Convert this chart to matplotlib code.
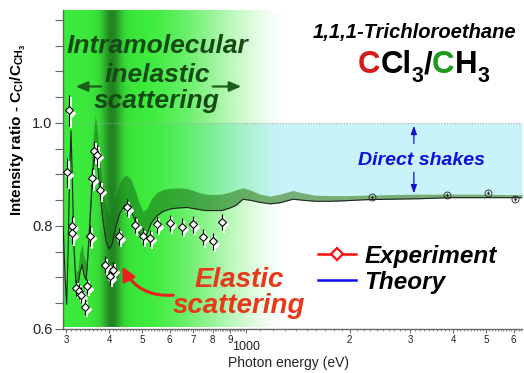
import numpy as np
import matplotlib
matplotlib.use('Agg')
import matplotlib.pyplot as plt
from matplotlib.lines import Line2D
from matplotlib import transforms
from matplotlib.ticker import FixedLocator, FixedFormatter, NullFormatter

plt.rcParams['font.family'] = ['Liberation Sans', 'DejaVu Sans']
plt.rcParams['mathtext.fontset'] = 'custom'
plt.rcParams['mathtext.rm'] = 'Liberation Sans:bold'
plt.rcParams['mathtext.it'] = 'Liberation Sans:bold'
plt.rcParams['mathtext.bf'] = 'Liberation Sans:bold'

# ---------------- data ----------------
theory_energy = [294, 298, 301, 304, 307, 310, 313, 316, 320, 325, 329, 334, 338, 343,
                 347, 352, 357, 362, 365, 369, 376, 384, 392, 400, 408, 419, 430, 442,
                 451, 463, 476, 489, 502, 516, 530, 551, 574, 601, 634, 674, 716, 760,
                 807, 851, 899, 935, 980, 1027, 1098, 1174, 1255, 1370, 1465, 1587,
                 1755, 1940, 2218, 2622, 3205, 3918, 4788, 5660, 6343]
theory_low = [0.80, 0.70, 0.648, 0.75, 0.90, 0.985, 0.88, 0.76, 0.69, 0.685, 0.71, 0.725,
              0.705, 0.695, 0.74, 0.81, 0.88, 0.93, 0.95, 0.93, 0.87, 0.81, 0.77, 0.755,
              0.765, 0.80, 0.825, 0.838, 0.84, 0.83, 0.81, 0.787, 0.778, 0.785, 0.805,
              0.82, 0.828, 0.833, 0.835, 0.836, 0.833, 0.83, 0.83, 0.83, 0.835, 0.84,
              0.852, 0.85, 0.846, 0.843, 0.845, 0.852, 0.85, 0.848, 0.848, 0.849, 0.851,
              0.852, 0.853, 0.855, 0.855, 0.855, 0.855]
theory_high = [0.81, 0.71, 0.66, 0.76, 0.91, 0.995, 0.89, 0.775, 0.71, 0.715, 0.75, 0.765,
               0.74, 0.73, 0.78, 0.86, 0.94, 0.995, 1.014, 0.99, 0.93, 0.87, 0.835, 0.82,
               0.83, 0.86, 0.885, 0.896, 0.898, 0.89, 0.87, 0.845, 0.828, 0.835, 0.852,
               0.865, 0.871, 0.873, 0.874, 0.873, 0.867, 0.862, 0.861, 0.862, 0.866, 0.87,
               0.874, 0.87, 0.862, 0.858, 0.862, 0.869, 0.864, 0.86, 0.859, 0.859, 0.86,
               0.861, 0.862, 0.862, 0.862, 0.861, 0.861]

exp_energy = [301, 305, 311, 313, 320, 327, 331, 340, 345, 351, 356, 361, 368, 377,
              390, 402, 411, 427, 452, 477, 501, 526, 552, 603, 650, 703, 752, 804, 853]
exp_ratio = [0.904, 1.025, 0.800, 0.786, 0.680, 0.673, 0.666, 0.643, 0.683, 0.781,
             0.893, 0.946, 0.938, 0.870, 0.725, 0.702, 0.715, 0.780, 0.836, 0.802,
             0.780, 0.777, 0.803, 0.806, 0.799, 0.803, 0.779, 0.770, 0.808]
exp_err = [0.028, 0.030, 0.020, 0.020, 0.015, 0.015, 0.015, 0.015, 0.015, 0.020,
           0.020, 0.020, 0.020, 0.018, 0.016, 0.016, 0.016, 0.016, 0.016, 0.016,
           0.016, 0.016, 0.016, 0.016, 0.016, 0.016, 0.016, 0.016, 0.016]

hi_energy = [2318, 3845, 5058, 6068]
hi_ratio = [0.856, 0.861, 0.865, 0.852]
hi_err = [0.003, 0.003, 0.003, 0.003]

xtick_values = [300, 400, 500, 600, 700, 800, 900, 1000, 2000, 3000, 4000, 5000, 6000]
xtick_labels = ['3', '4', '5', '6', '7', '8', '9', '1000', '2', '3', '4', '5', '6']
ytick_values = [0.6, 0.8, 1.0]
ytick_labels = ['0.6', '0.8', '1.0']

# ---------------- figure ----------------
W, H = 524, 373
fig = plt.figure(figsize=(W / 100, H / 100), dpi=100)
ax = fig.add_axes([63 / W, (H - 329) / H, (522 - 63) / W, (329 - 10) / H])

def P(x, y):
    return (x / W, 1 - y / H)

E = np.array(theory_energy)
lo = np.array(theory_low)
hi = np.array(theory_high)

# cyan "direct shakes" region
ax.fill_between(E, np.minimum(hi, 1.0), 1.0, color='#c8f3f9', lw=0, zorder=0.5)

# green gradient background (axes coordinates)
npx = 459
u = 63 + np.arange(npx) + 0.5
base = np.array([60, 236, 60]) / 255.0
dark = 1 - 0.36 * np.exp(-((u - 112) / 9.0) ** 2) - 0.08 * np.exp(-((u - 112) / 20) ** 2)
s = np.clip((u - 145) / 140.0, 0, 1)
alpha = 1 - (3 * s ** 2 - 2 * s ** 3) * 0.6 - s * 0.4
img = np.zeros((1, npx, 4))
img[0, :, 0] = base[0] * dark
img[0, :, 1] = base[1] * dark
img[0, :, 2] = base[2] * dark
img[0, :, 3] = np.clip(alpha, 0, 1)
ax.imshow(img, extent=(0, 1, 0.006, 1), transform=ax.transAxes, aspect='auto',
          interpolation='bilinear', zorder=0.8)

ax.axhline(1.0, color='#a8a8a8', ls=(0, (1, 1.5)), lw=0.8, zorder=1)

# theory band and line
ax.fill_between(E, lo, hi, color='#1a7a1a', alpha=0.6, lw=0, zorder=2)
ax.plot(E, lo, color='#222222', lw=0.8, zorder=3)

# experiment (white shadow + black)
shadow = ax.transData + transforms.ScaledTranslation(2 / 100, -2.5 / 100, fig.dpi_scale_trans)
ex = np.array(exp_energy)
ey = np.array(exp_ratio)
ee = np.array(exp_err)
ax.vlines(ex, ey - ee, ey + ee, color='white', lw=1.4, transform=shadow, zorder=4)
ax.plot(ex, ey, 'D', ms=4, mfc='white', mec='white', transform=shadow, zorder=4)
ax.errorbar(ex, ey, yerr=ee, fmt='D', ms=4, mfc='white', mec='black', mew=0.8,
            ecolor='black', elinewidth=0.8, capsize=0, zorder=5)

ax.errorbar(hi_energy, hi_ratio, yerr=hi_err, fmt='o', ms=5, mfc='none', mec='#222222',
            mew=0.6, ecolor='#222222', elinewidth=0.6, capsize=0, zorder=5)
ax.plot(hi_energy, hi_ratio, '.', ms=1.5, color='#222222', zorder=6)

# ---------------- axes ----------------
ax.set_xscale('log')
ax.set_xlim(293.8, 6343)
ax.set_ylim(0.6, 1.2194)
ax.spines['top'].set_visible(False)
ax.spines['right'].set_visible(False)
for sp in ('left', 'bottom'):
    ax.spines[sp].set_color('#666666')
    ax.spines[sp].set_linewidth(1.0)

ax.xaxis.set_major_locator(FixedLocator(xtick_values))
ax.xaxis.set_major_formatter(FixedFormatter(xtick_labels))
minor = [v for v in list(range(300, 1000, 10)) + list(range(1000, 6400, 100))
         if v not in xtick_values]
ax.xaxis.set_minor_locator(FixedLocator(minor))
ax.xaxis.set_minor_formatter(NullFormatter())
ax.tick_params(axis='x', which='major', direction='out', length=3, width=0.7,
               color='#666666', labelsize=7, pad=1, labelcolor='#222222')
ax.tick_params(axis='x', which='minor', direction='out', length=1.6, width=0.5,
               color='#666666')
ax.yaxis.set_major_locator(FixedLocator(ytick_values))
ax.yaxis.set_major_formatter(FixedFormatter(ytick_labels))
ax.yaxis.set_minor_locator(FixedLocator(list(np.arange(0.65, 1.21, 0.05))))
ax.tick_params(axis='y', which='both', direction='out', length=5.5, width=0.8,
               color='#666666', labelsize=10.5, pad=2, labelcolor='#222222')

fig.canvas.draw()
for t in ax.xaxis.get_major_ticks():
    if t.label1.get_text() == '1000':
        t.tick1line.set_markersize(5.5)
        t.label1.set_fontsize(9)
        t.set_pad(6)

ax.set_xlabel('Photon energy (eV)', fontsize=10, color='#222222')
ax.xaxis.set_label_coords((288.5 - 63) / 459, (329 - 356) / 319)
ax.set_ylabel(r'Intensity ratio - C$_{\mathrm{Cl}}$/C$_{\mathrm{CH_3}}$', fontsize=11,
              fontweight='bold')
ax.yaxis.set_label_coords((28 - 63) / 459, (329 - 130) / 319)

# ---------------- annotations ----------------
dg = '#154a15'
for txt, yb in (('Intramolecular', 53), ('inelastic', 82), ('scattering', 108)):
    fig.text(*P(157, yb), txt, fontsize=19, fontweight='bold', style='italic', color=dg,
             ha='center', va='baseline')
ax.annotate('', xy=P(73, 86.5), xytext=P(104, 86.5), xycoords='figure fraction',
            textcoords='figure fraction',
            arrowprops=dict(arrowstyle='-|>,head_length=0.7,head_width=0.3', color='#1a5e1a', lw=1.6))
ax.annotate('', xy=P(244, 86.5), xytext=P(210, 86.5), xycoords='figure fraction',
            textcoords='figure fraction',
            arrowprops=dict(arrowstyle='-|>,head_length=0.7,head_width=0.3', color='#1a5e1a', lw=1.6))

fig.text(*P(516, 38), '1,1,1-Trichloroethane', fontsize=14.5, fontweight='bold',
         style='italic', color='black', ha='right', va='baseline')

# chemical formula built from coloured pieces
pieces = [('C', '#d41c1c', 22.5, 0), ('Cl', 'black', 22.5, 0), ('3', 'black', 15.5, 9),
          ('/', 'black', 22.5, 0), ('C', '#1c9a1c', 22.5, 0), ('H', 'black', 22.5, 0),
          ('3', 'black', 15.5, 9)]
rend = fig.canvas.get_renderer()
xc = 358
for s_, col, size, dy in pieces:
    t = fig.text(*P(xc, 73 + dy), s_, fontsize=size, color=col, fontweight='bold',
                 ha='left', va='baseline')
    bb = t.get_window_extent(rend)
    xc = bb.x1

fig.text(*P(422, 165), 'Direct shakes', fontsize=14, fontweight='bold', style='italic',
         color='#1111dd', ha='center', va='baseline')
xa = 3076
ax.annotate('', xy=(xa, 1.0), xytext=(xa, 0.955),
            arrowprops=dict(arrowstyle='-|>,head_length=0.5,head_width=0.18', color='#1111cc', lw=0.9))
ax.annotate('', xy=(xa, 0.858), xytext=(xa, 0.91),
            arrowprops=dict(arrowstyle='-|>,head_length=0.5,head_width=0.18', color='#1111cc', lw=0.9))

red = '#e8381a'
for txt, yb in (('Elastic', 287), ('scattering', 313)):
    fig.text(*P(239, yb), txt, fontsize=20, fontweight='bold', style='italic', color=red,
             ha='center', va='baseline')
ax.annotate('', xy=P(121, 264), xytext=P(176, 295), xycoords='figure fraction',
            textcoords='figure fraction',
            arrowprops=dict(arrowstyle='-|>,head_length=0.8,head_width=0.4', color='#e8211e',
                            lw=2.2, connectionstyle='arc3,rad=-0.35'))

# legend
handles = [Line2D([], [], color='#ff1010', lw=1.8, marker='D', ms=6, mfc='white',
                  mec='#ff1010', mew=1.6),
           Line2D([], [], color='#1010ee', lw=1.8)]
fig.legend(handles, ['Experiment', 'Theory'], loc='upper left',
           bbox_to_anchor=P(318, 245), frameon=False, borderpad=0, borderaxespad=0,
           handlelength=1.55, handletextpad=0.35, labelspacing=0.12, numpoints=1,
           prop=dict(size=17.5, weight='bold', style='italic'))

fig.savefig('out.png', dpi=100)
